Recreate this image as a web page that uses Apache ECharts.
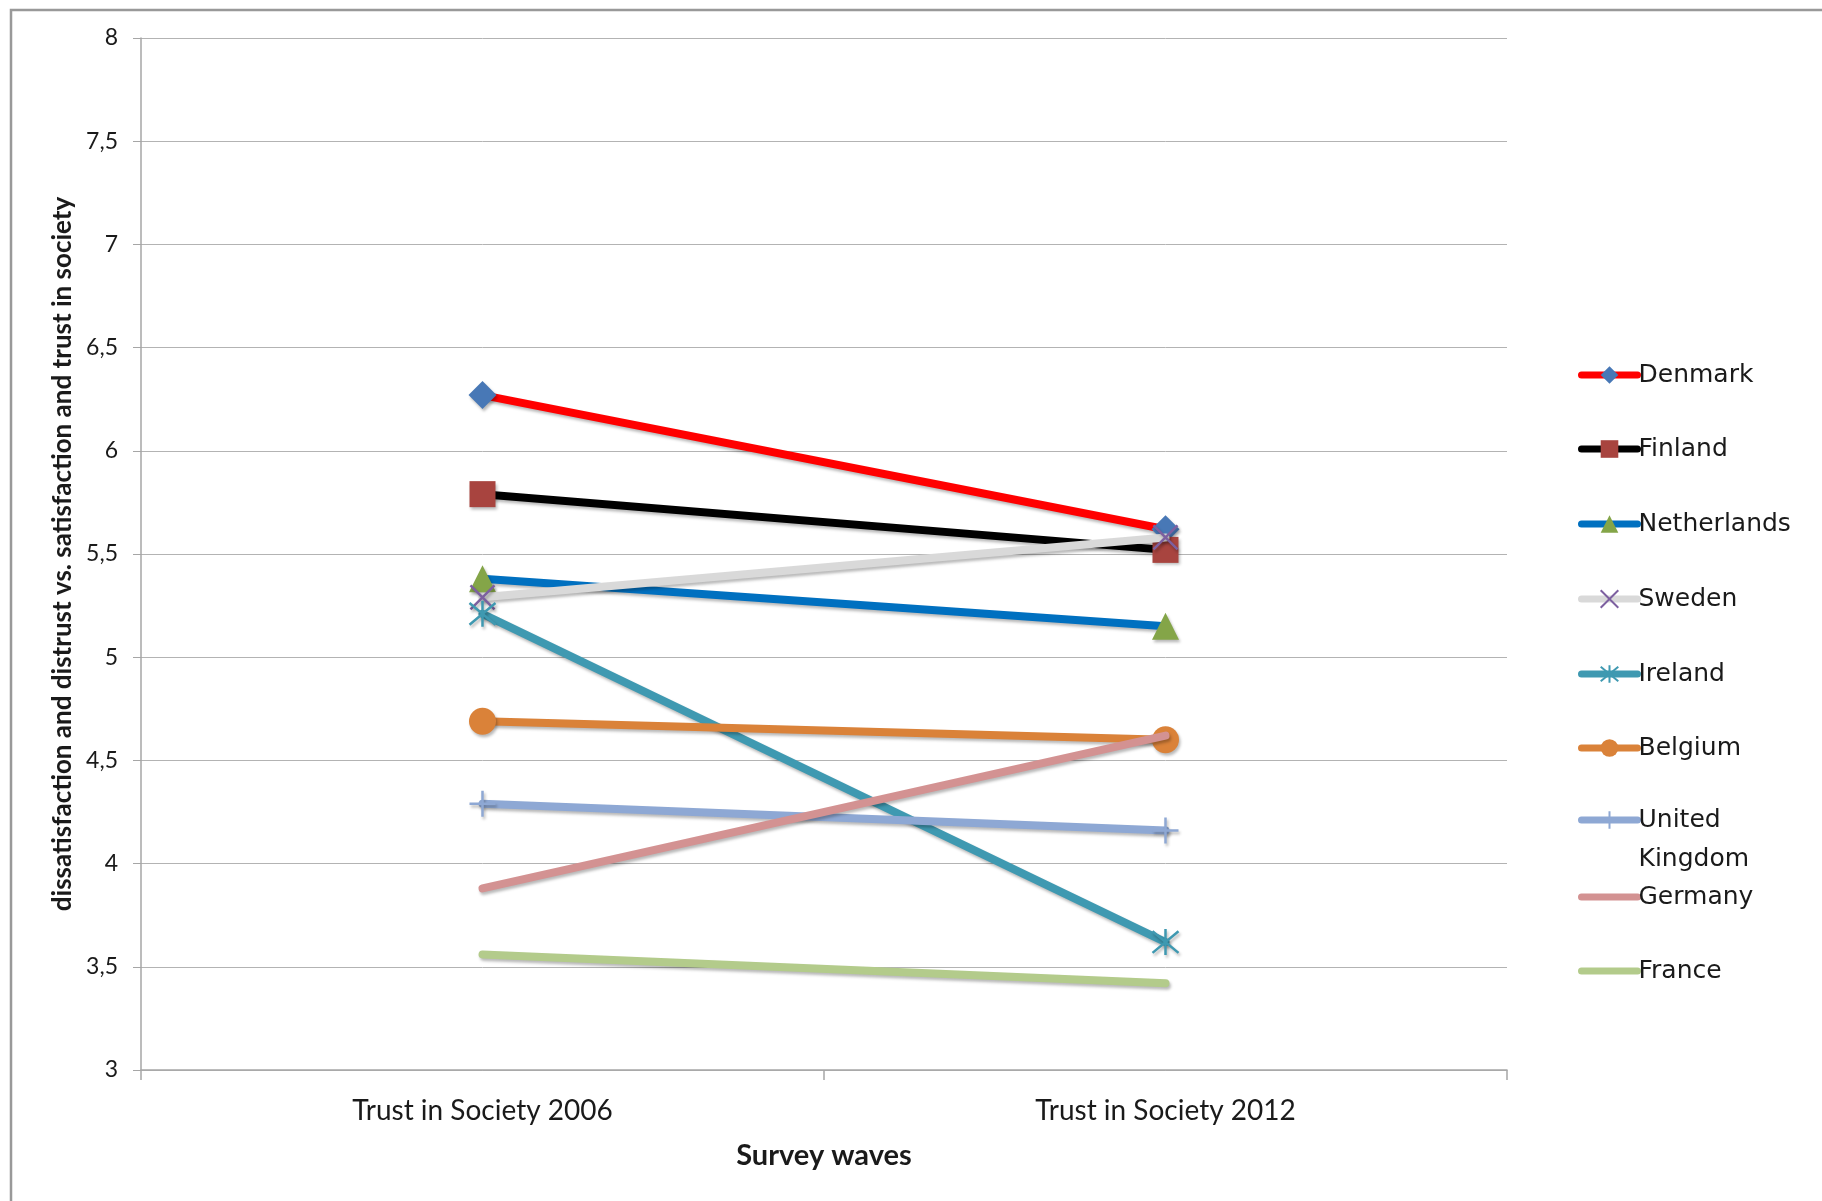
<!DOCTYPE html>
<html>
<head>
<meta charset="utf-8">
<script src="https://cdn.jsdelivr.net/npm/echarts@6/dist/echarts.min.js"></script>
<style>
html,body{margin:0;padding:0;background:#fff;}
#chart{width:1822px;height:1201px;}
</style>
</head>
<body>
<div id="chart"></div>
<script>
// ---- data ----
const categories = ['Trust in Society 2006', 'Trust in Society 2012'];
const countries = ['Denmark', 'Finland', 'Netherlands', 'Sweden', 'Ireland', 'Belgium', 'United Kingdom', 'Germany', 'France'];
const denmark = [6.27, 5.62];
const finland = [5.79, 5.52];
const netherlands = [5.38, 5.15];
const sweden = [5.29, 5.58];
const ireland = [5.21, 3.62];
const belgium = [4.69, 4.60];
const unitedKingdom = [4.29, 4.16];
const germany = [3.88, 4.62];
const france = [3.56, 3.42];
const yMin = 3, yMax = 8, yStep = 0.5;

const values = [denmark, finland, netherlands, sweden, ireland, belgium, unitedKingdom, germany, france];

// ---- styles ----
const lineColors = ['#FF0000', '#000000', '#0070C0', '#D9D9D9', '#3F99B1', '#DA8239', '#8EA8D4', '#D39292', '#B3CB8B'];
const X_PATH = 'path://M0,0L10,10M10,0L0,10';
const STAR_PATH = 'path://M0,0L10,10M10,0L0,10M5,-1L5,11';
const PLUS_PATH = 'path://M0,5L10,5M5,0L5,10';
const markers = [
  {symbol: 'diamond', size: 28, itemStyle: {color: '#4878B6'}},
  {symbol: 'rect', size: 26, itemStyle: {color: '#A8443F'}},
  {symbol: 'triangle', size: 27, itemStyle: {color: '#84A548'}},
  {symbol: X_PATH, size: 24, itemStyle: {color: 'rgba(0,0,0,0)', borderColor: '#7D60A0', borderWidth: 2.5}},
  {symbol: STAR_PATH, size: 26, itemStyle: {color: 'rgba(0,0,0,0)', borderColor: '#3F99B1', borderWidth: 2.5}},
  {symbol: 'circle', size: 27, itemStyle: {color: '#DA8239'}},
  {symbol: PLUS_PATH, size: 26, itemStyle: {color: 'rgba(0,0,0,0)', borderColor: '#8EA8D4', borderWidth: 2.5}},
  {symbol: 'circle', size: 0, itemStyle: {color: 'rgba(0,0,0,0)'}},
  {symbol: 'circle', size: 0, itemStyle: {color: 'rgba(0,0,0,0)'}}
];

const shadow = {shadowColor: 'rgba(0,0,0,0.28)', shadowBlur: 3, shadowOffsetX: 1.5, shadowOffsetY: 2.5};

const series = countries.map((name, i) => ({
  name: name,
  type: 'line',
  data: values[i],
  symbol: markers[i].symbol,
  symbolSize: markers[i].size,
  showSymbol: true,
  lineStyle: Object.assign({color: lineColors[i], width: 8, cap: 'round'}, shadow),
  itemStyle: Object.assign({}, markers[i].itemStyle, shadow),
  emphasis: {disabled: true},
  z: 2 + i
}));

const legendCenters = [375, 449, 524, 599, 674, 748, 820, 897, 971];
const legends = countries.map((name, i) => {
  const isUK = name === 'United Kingdom';
  const lh = isUK ? 39 : 26;
  const blockH = isUK ? lh * 3 : lh;
  return {
    data: [name],
    left: 1578,
    top: legendCenters[i] - blockH / 2,
    orient: 'vertical',
    padding: 0,
    itemWidth: 56,
    itemHeight: 22,
    itemGap: 0,
    selectedMode: false,
    formatter: isUK ? ' \nUnited\nKingdom' : '{name}',
    lineStyle: {width: 7, cap: 'round', shadowBlur: 0, shadowOffsetX: 0, shadowOffsetY: 0},
    itemStyle: {shadowBlur: 0, shadowOffsetX: 0, shadowOffsetY: 0},
    textStyle: {
      fontFamily: 'DejaVu Sans',
      fontSize: 25,
      color: '#1a1a1a',
      lineHeight: lh,
      padding: [0, 0, 0, -4]
    }
  };
});

const chart = echarts.init(document.getElementById('chart'), null, {renderer: 'canvas'});
chart.setOption({
  animation: false,
  backgroundColor: '#ffffff',
  grid: {left: 141, right: 315, top: 38, bottom: 131, containLabel: false},
  legend: legends,
  xAxis: {
    type: 'category',
    data: categories,
    boundaryGap: true,
    name: 'Survey waves',
    nameLocation: 'middle',
    nameGap: 71,
    nameTextStyle: {fontFamily: 'Lato', fontWeight: 'bold', fontSize: 29, color: '#1a1a1a'},
    axisLine: {show: true, lineStyle: {color: '#A6A6A6', width: 1.5}},
    axisTick: {show: true, length: 10, alignWithLabel: false, lineStyle: {color: '#A6A6A6', width: 1.5}},
    axisLabel: {fontFamily: 'Lato', fontSize: 28, color: '#1a1a1a', margin: 27},
    splitLine: {show: false}
  },
  yAxis: {
    type: 'value',
    min: yMin,
    max: yMax,
    interval: yStep,
    name: 'dissatisfaction and distrust vs. satisfaction and trust in society',
    nameLocation: 'middle',
    nameGap: 63,
    nameTextStyle: {fontFamily: 'Lato', fontWeight: 'bold', fontSize: 26, color: '#1a1a1a'},
    axisLine: {show: true, lineStyle: {color: '#A6A6A6', width: 1.5}},
    axisTick: {show: true, length: 8, inside: false, lineStyle: {color: '#A6A6A6', width: 1}},
    axisLabel: {
      fontFamily: 'Lato', fontSize: 23, color: '#1a1a1a', margin: 23,
      formatter: v => String(v).replace('.', ',')
    },
    splitLine: {show: true, lineStyle: {color: '#B3B3B3', width: 1}}
  },
  graphic: [{
    type: 'rect',
    shape: {x: 11, y: 10, width: 1900, height: 1300},
    style: {fill: 'none', stroke: '#999999', lineWidth: 2.5},
    silent: true,
    z: 100
  }],
  series: series
});
</script>
</body>
</html>
